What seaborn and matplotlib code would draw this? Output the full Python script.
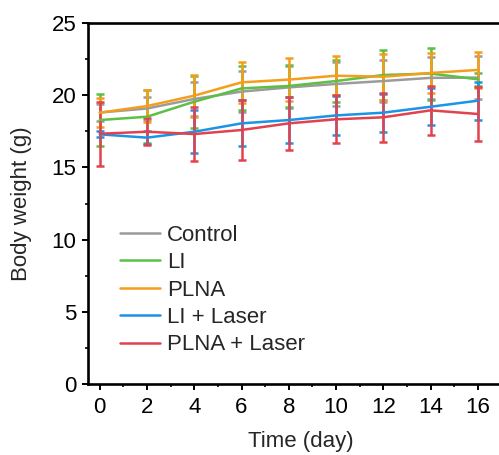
import numpy as np
import pandas as pd
import matplotlib
matplotlib.use("Agg")
import matplotlib.pyplot as plt
import seaborn as sns
from matplotlib.ticker import MultipleLocator

days = [0, 2, 4, 6, 8, 10, 12, 14, 16]
groups = ["Control", "LI", "PLNA", "LI + Laser", "PLNA + Laser"]
control_mean = [18.8, 19.08, 19.74, 20.25, 20.54, 20.78, 20.98, 21.2, 21.22]
control_err = [0.6, 0.77, 1.2, 1.4, 1.45, 1.5, 1.46, 1.47, 1.47]
li_mean = [18.28, 18.51, 19.55, 20.47, 20.64, 20.98, 21.4, 21.5, 21.1]
li_err = [1.82, 1.84, 1.8, 1.52, 1.45, 1.46, 1.72, 1.8, 0.45]
plna_mean = [18.79, 19.25, 19.97, 20.89, 21.08, 21.35, 21.28, 21.54, 21.75]
plna_err = [1.0, 1.1, 1.45, 1.43, 1.47, 1.34, 1.6, 1.4, 1.26]
lil_mean = [17.29, 17.06, 17.47, 18.05, 18.28, 18.6, 18.79, 19.2, 19.62]
lil_err = [0.2, 0.45, 1.48, 1.6, 1.6, 1.34, 1.32, 1.28, 1.31]
plnal_mean = [17.33, 17.47, 17.31, 17.59, 18.05, 18.33, 18.47, 18.95, 18.7]
plnal_err = [2.2, 0.95, 1.9, 2.1, 1.85, 1.67, 1.7, 1.7, 1.9]

means = [control_mean, li_mean, plna_mean, lil_mean, plnal_mean]
errs = [control_err, li_err, plna_err, lil_err, plnal_err]
colors = ["#9B9B9B", "#5CC045", "#F59E1B", "#1B93E6", "#E1424E"]

df = pd.DataFrame({
    "Time": np.tile(days, len(groups)),
    "Weight": np.concatenate(means),
    "Err": np.concatenate(errs),
    "Group": np.repeat(groups, len(days)),
})

sns.set_style("ticks")
plt.rcParams["font.family"] = ["Liberation Sans", "DejaVu Sans"]

fig = plt.figure(figsize=(4.99, 4.55), dpi=100)
ax = fig.add_axes([88/499, 71/455, 425.25/499, 361/455])

palette = dict(zip(groups, colors))
for g, c in zip(groups, colors):
    sub = df[df["Group"] == g]
    ax.errorbar(sub["Time"], sub["Weight"], yerr=sub["Err"], fmt="none",
                ecolor=c, elinewidth=1.8, capsize=3, capthick=1.8, zorder=2)
sns.lineplot(data=df, x="Time", y="Weight", hue="Group", hue_order=groups,
             palette=palette, linewidth=1.8, ax=ax, zorder=3, legend=True)

ax.set_xlim(-0.5, 17.5)
ax.set_ylim(0, 25)
ax.xaxis.set_major_locator(MultipleLocator(2))
ax.xaxis.set_minor_locator(MultipleLocator(1))
ax.yaxis.set_major_locator(MultipleLocator(5))
ax.yaxis.set_minor_locator(MultipleLocator(2.5))
ax.tick_params(which="major", direction="out", length=4.5, width=1.4, labelsize=16,
               colors="black")
ax.tick_params(axis="x", which="major", pad=5)
ax.tick_params(axis="y", which="major", pad=4)
ax.tick_params(which="minor", direction="out", length=2.5, width=1.4)
for s in ax.spines.values():
    s.set_linewidth(1.9)
    s.set_color("black")
ax.set_xlabel("Time (day)", fontsize=16, labelpad=9)
ax.set_ylabel("Body weight (g)", fontsize=16, labelpad=14)

leg = ax.legend(frameon=False, fontsize=16, loc="upper left",
                bbox_to_anchor=(0.055, 0.466), handlelength=1.8,
                handletextpad=0.3, labelspacing=0.29, borderaxespad=0)
for h in leg.get_lines():
    h.set_linewidth(1.8)

fig.savefig("out.png", dpi=100)
